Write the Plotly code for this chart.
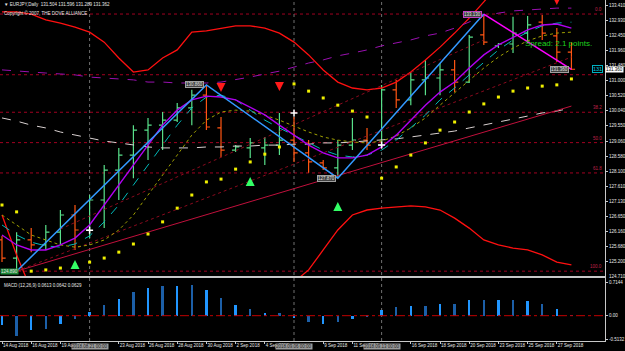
import plotly.graph_objects as go

dates = ["14 Aug 2018", "15 Aug 2018", "16 Aug 2018", "17 Aug 2018", "19 Aug 2018", "20 Aug 2018",
         "21 Aug 2018", "22 Aug 2018", "23 Aug 2018", "24 Aug 2018", "26 Aug 2018", "27 Aug 2018",
         "28 Aug 2018", "29 Aug 2018", "30 Aug 2018", "31 Aug 2018", "2 Sep 2018", "3 Sep 2018",
         "4 Sep 2018", "5 Sep 2018", "6 Sep 2018", "7 Sep 2018", "9 Sep 2018", "10 Sep 2018",
         "11 Sep 2018", "12 Sep 2018", "13 Sep 2018", "14 Sep 2018", "16 Sep 2018", "17 Sep 2018",
         "18 Sep 2018", "19 Sep 2018", "20 Sep 2018", "21 Sep 2018", "23 Sep 2018", "24 Sep 2018",
         "25 Sep 2018", "26 Sep 2018", "27 Sep 2018", "28 Sep 2018"]

opens = [125.89, 125.31, 125.89, 125.73, 126.14, 126.69, 126.21, 127.17, 128.13, 128.61,
         129.41, 129.57, 129.73, 130.12, 130.53, 129.48, 128.77, 128.84, 128.84, 128.93,
         129.09, 128.68, 128.36, 128.20, 128.93, 129.09, 128.93, 130.70, 130.38, 131.02,
         131.08, 131.34, 130.95, 132.46, 132.11, 132.17, 132.52, 132.87, 132.43, 131.91]
highs = [126.02, 126.14, 126.27, 126.37, 126.85, 127.01, 127.33, 128.29, 128.84, 129.57,
         129.80, 129.99, 130.28, 130.70, 130.86, 129.83, 128.93, 129.16, 129.19, 129.96,
         129.83, 129.09, 128.45, 129.09, 129.80, 129.48, 130.86, 131.02, 131.27, 131.66,
         131.56, 131.66, 132.46, 133.13, 132.20, 133.04, 133.07, 133.10, 132.68, 132.23]
lows = [125.18, 124.89, 125.50, 125.57, 125.73, 125.57, 125.95, 126.27, 127.17, 127.87,
        128.45, 128.77, 129.67, 129.57, 129.41, 128.55, 128.71, 128.52, 128.29, 128.61,
        128.39, 128.04, 128.13, 127.87, 128.77, 128.77, 128.84, 130.12, 130.21, 130.53,
        130.53, 130.63, 130.92, 132.14, 132.04, 131.88, 132.20, 132.30, 131.59, 131.34]
closes = [125.31, 125.89, 125.73, 126.14, 126.69, 126.21, 127.17, 128.13, 128.61, 129.41,
          129.57, 129.73, 130.12, 130.53, 129.51, 128.77, 128.87, 129.00, 128.93, 129.09,
          128.68, 128.39, 128.20, 128.93, 129.09, 128.93, 130.70, 130.38, 131.02, 131.08,
          131.34, 130.95, 132.39, 132.23, 132.17, 132.52, 132.78, 132.52, 131.91, 131.36]

band_upper = [133.20, 133.20, 133.13, 132.94, 132.84, 132.71, 132.55, 132.23, 131.72, 131.27,
              131.34, 131.72, 131.98, 132.55, 132.59, 132.68, 132.75, 132.75, 132.68, 132.52,
              132.23, 131.82, 131.34, 130.95, 130.76, 130.70, 130.76, 130.95, 131.27, 131.66,
              132.07, 132.52, 133.00, 133.52, 134.06, 134.38, 134.54, 134.54, 134.48, 134.38]
band_lower = [126.69, 125.41, 124.29, 123.32, 122.84, 122.52, 122.36, 122.36, 122.52, 122.68,
              122.84, 123.00, 123.16, 123.32, 123.48, 123.65, 123.81, 123.97, 124.13, 124.29,
              124.54, 124.93, 125.57, 126.21, 126.69, 126.85, 126.91, 126.95, 126.98, 126.95,
              126.85, 126.59, 126.27, 125.89, 125.73, 125.63, 125.57, 125.41, 125.18, 125.09]
ma_fast = [126.05, 125.73, 125.57, 125.57, 125.73, 125.95, 126.37, 127.01, 127.65, 128.29,
           128.93, 129.57, 130.05, 130.38, 130.50, 130.47, 130.38, 130.15, 129.90, 129.57,
           129.25, 128.93, 128.68, 128.52, 128.52, 128.61, 128.87, 129.25, 129.73, 130.21,
           130.63, 130.95, 131.40, 131.82, 132.14, 132.39, 132.62, 132.78, 132.81, 132.68]
ma_mid = [126.37, 126.05, 125.82, 125.70, 125.66, 125.76, 126.02, 126.47, 127.01, 127.65,
          128.29, 128.93, 129.57, 130.12, 130.47, 130.53, 130.38, 130.05, 129.73, 129.48,
          129.25, 129.00, 128.77, 128.61, 128.55, 128.61, 128.77, 129.09, 129.48, 129.89,
          130.38, 130.76, 131.18, 131.59, 131.98, 132.30, 132.55, 132.75, 132.84, 132.87]
ma_slow = [126.69, 126.37, 126.05, 125.89, 125.73, 125.66, 125.73, 125.89, 126.21, 126.69,
           127.33, 127.97, 128.61, 129.25, 129.73, 129.99, 130.05, 130.02, 129.89, 129.73,
           129.54, 129.35, 129.19, 129.09, 129.03, 129.00, 129.06, 129.22, 129.48, 129.80,
           130.21, 130.60, 131.02, 131.40, 131.75, 132.04, 132.27, 132.43, 132.52, 132.55]
ma_long = [129.80, 129.70, 129.57, 129.48, 129.35, 129.25, 129.16, 129.06, 129.00, 128.93,
           128.87, 128.84, 128.84, 128.84, 128.87, 128.87, 128.90, 128.90, 128.93, 128.93,
           128.96, 128.96, 129.00, 129.00, 129.03, 129.06, 129.09, 129.13, 129.19, 129.25,
           129.32, 129.38, 129.48, 129.57, 129.67, 129.77, 129.86, 129.96, 130.02, 130.12]
ma_channel = [131.34, 131.30, 131.27, 131.24, 131.21, 131.18, 131.11, 131.08, 131.05, 131.02,
              130.95, 130.95, 130.92, 130.92, 130.92, 130.95, 131.02, 131.11, 131.21, 131.30,
              131.43, 131.56, 131.66, 131.79, 131.88, 131.98, 132.11, 132.20, 132.30, 132.43,
              132.52, 132.68, 132.87, 133.07, 133.16, 133.23, 133.26, 133.29, 133.32, 133.32]
sar = [127.01, 126.79, 124.89, 124.93, 124.99, 125.09, 125.18, 125.31, 125.50, 125.76,
       126.08, 126.47, 126.91, 127.33, 127.75, 127.84, 128.16, 128.39, 128.64, 128.87,
       130.89, 130.66, 130.44, 130.21, 130.02, 129.83, 127.87, 128.23, 128.61, 129.00,
       129.41, 129.67, 129.99, 130.25, 130.47, 130.66, 130.76, 130.82, 130.86, 131.05]
macd = [-0.20, -0.45, -0.30, -0.28, -0.18, -0.08, 0.09, 0.24, 0.37, 0.51,
        0.59, 0.65, 0.65, 0.67, 0.55, 0.39, 0.24, 0.14, 0.06, 0.06,
        -0.06, -0.14, -0.18, -0.14, -0.07, -0.03, 0.13, 0.18, 0.21, 0.21,
        0.25, 0.26, 0.35, 0.35, 0.33, 0.33, 0.31, 0.25, 0.14, 0.01]

zigzag_idx = [1, 14, 23, 33]
sell_idx = [15, 19, 38]
sell_y = [130.63, 130.66, 133.42]
buy_idx = [5, 17, 23]
buy_y = [125.25, 127.91, 127.11]
mark_idx = [6, 20, 26]
mark_y = [126.20, 129.96, 128.93]
trend_solid_idx = [1, 39]
trend_solid_y = [124.89, 130.18]
trend_a_idx = [4, 33]
trend_a_y = [126.24, 132.30]
trend_b_idx = [1, 39]
trend_b_y = [124.89, 131.75]
vline_idx = [6, 20, 26]
vline_text = ["2018.08.21 00:00", "2018.09.06 00:00", "2018.09.13 00:00"]
price_ticks = [133.41, 132.93, 132.45, 131.96, 131.48, 131.00, 130.52, 130.04, 129.55, 129.06,
               128.58, 128.10, 127.61, 127.13, 126.65, 126.16, 125.68, 125.20]
macd_ticks = [0.7144, 0.0, -0.5132]
macd_tick_text = ["0.7144", "0.00", "-0.5132"]
fib_levels = [0.0, 23.6, 38.2, 50.0, 61.8, 100.0]
fib_labels = ["0.0", "", "38.2", "50.0", "61.8", "100.0"]

FONT = "Liberation Sans"
AX = "#c8c8c8"
TXT = "#e8e8e8"
FS = 4.5
x = list(range(len(dates)))

# date ticks every second bar; those under the vertical-line boxes are hidden by the boxes
date_tick_idx = [i for i in x[::2] if i not in vline_idx]
date_tick_text = [dates[i] for i in date_tick_idx]

fig = go.Figure()

# envelope bands
for band in (band_upper, band_lower):
    fig.add_trace(go.Scatter(x=x, y=band, mode="lines", line=dict(color="#ff1010", width=1.3),
                             hoverinfo="skip", showlegend=False))

# long lines
fig.add_trace(go.Scatter(x=x, y=ma_channel, mode="lines", line=dict(color="#9a10b0", width=1, dash="dash"),
                         showlegend=False))
fig.add_trace(go.Scatter(x=x, y=ma_long, mode="lines", line=dict(color="#d8d0d0", width=1, dash="dash"),
                         showlegend=False))
fig.add_trace(go.Scatter(x=trend_solid_idx, y=trend_solid_y, mode="lines",
                         line=dict(color="#c0103c", width=1), showlegend=False))
fig.add_trace(go.Scatter(x=trend_a_idx, y=trend_a_y, mode="lines",
                         line=dict(color="#8a0a1e", width=1, dash="dot"), showlegend=False))
fig.add_trace(go.Scatter(x=trend_b_idx, y=trend_b_y, mode="lines",
                         line=dict(color="#8a0a1e", width=1, dash="dot"), showlegend=False))

# moving averages
fig.add_trace(go.Scatter(x=x, y=ma_slow, mode="lines", line=dict(color="#a0a000", width=1, dash="dot"),
                         showlegend=False))
fig.add_trace(go.Scatter(x=x, y=ma_mid, mode="lines", line=dict(color="#00b8b8", width=1, dash="dash"),
                         showlegend=False))
fig.add_trace(go.Scatter(x=x, y=ma_fast, mode="lines", line=dict(color="#b000f0", width=1.4),
                         showlegend=False))

# fibonacci levels
fib_low = lows[zigzag_idx[0]]
fib_high = highs[zigzag_idx[3]]
for lvl, lab in zip(fib_levels, fib_labels):
    yv = fib_high - (fib_high - fib_low) * lvl / 100.0
    fig.add_shape(type="line", xref="paper", yref="y", x0=0, x1=1, y0=yv, y1=yv,
                  line=dict(color="#a00020", width=1, dash="dot"), layer="below")
    if lab:
        fig.add_annotation(xref="paper", yref="y", x=0.998, y=yv, text=lab, showarrow=False,
                           xanchor="right", yanchor="bottom", font=dict(family=FONT, size=FS, color="#c0204a"))

# vertical lines
for vi, vt in zip(vline_idx, vline_text):
    fig.add_shape(type="line", xref="x", yref="paper", x0=vi, x1=vi, y0=0, y1=1,
                  line=dict(color="#707070", width=1, dash="dot"), layer="below")
    fig.add_annotation(xref="x", yref="paper", x=vi, y=0, yanchor="top", yshift=-2, text=vt,
                       showarrow=False, bgcolor="#9a9a9a", font=dict(family=FONT, size=FS, color="#202020"),
                       borderpad=0)

# bars
fig.add_trace(go.Ohlc(x=x, open=opens, high=highs, low=lows, close=closes, tickwidth=0.25,
                      increasing=dict(line=dict(color="#58e08a", width=1.2)),
                      decreasing=dict(line=dict(color="#ff5512", width=1.2)),
                      showlegend=False, hoverinfo="skip"))

# zigzag
zz_x = zigzag_idx
zz_y = [lows[1], highs[14], lows[23], highs[33]]
fig.add_trace(go.Scatter(x=zz_x, y=zz_y, mode="lines", line=dict(color="#3399ff", width=1.5), showlegend=False))
fig.add_trace(go.Scatter(x=[zigzag_idx[3], x[-1]], y=[highs[33], closes[-1]], mode="lines",
                         line=dict(color="#ff00ff", width=1.5), showlegend=False))

# sar dots
fig.add_trace(go.Scatter(x=x, y=sar, mode="markers", marker=dict(color="#f0f000", size=3, symbol="square"),
                         showlegend=False))
# signals
fig.add_trace(go.Scatter(x=sell_idx, y=sell_y, mode="markers",
                         marker=dict(color="#ff1a1a", size=9, symbol="arrow-down"), showlegend=False))
fig.add_trace(go.Scatter(x=buy_idx, y=buy_y, mode="markers",
                         marker=dict(color="#33ff66", size=9, symbol="arrow-up"), showlegend=False))
fig.add_trace(go.Scatter(x=mark_idx, y=mark_y, mode="markers",
                         marker=dict(color="#ffffff", size=5, symbol="cross-thin", line=dict(color="#ffffff", width=1.5)),
                         showlegend=False))

# zigzag labels
zz_labels = [(14, highs[14], "#a0a0a0"), (23, lows[23], "#a0a0a0"),
             (33, highs[33], "#c040c0"), (39, closes[-1], "#a0a0a0")]
for xi, yv, bc in zz_labels:
    fig.add_annotation(x=xi, y=yv, xref="x", yref="y", text=f"{yv:.3f}", showarrow=False,
                       xanchor="right", xshift=-2, bgcolor="#404040", bordercolor=bc, borderwidth=1, borderpad=0,
                       font=dict(family=FONT, size=FS, color="#e0e0e0"))
fig.add_annotation(xref="paper", x=0.0, y=lows[1], yref="y", text=f"{lows[1]:.3f}", showarrow=False,
                   xanchor="left", yanchor="middle", bgcolor="#1e8a3a", borderpad=0,
                   font=dict(family=FONT, size=FS, color="#e0e0e0"))

# macd
macd_colors = ["#2196ff" if i % 2 == 0 else "#1c5fa8" for i in x]
fig.add_trace(go.Bar(x=x, y=macd, marker=dict(color=macd_colors, line=dict(width=0)), width=0.16,
                     xaxis="x2", yaxis="y2", showlegend=False))
fig.add_shape(type="line", xref="paper", yref="y2", x0=0, x1=1, y0=0, y1=0,
              line=dict(color="#c00000", width=1, dash="dashdot"))

# texts
fig.add_annotation(xref="paper", yref="paper", x=0.004, y=1.0, yanchor="top", xanchor="left",
                   text="\u25bc EURJPY,Daily  131.504 131.596 131.289 131.362", showarrow=False,
                   font=dict(family=FONT, size=FS, color=TXT))
fig.add_annotation(xref="paper", yref="paper", x=0.004, y=0.976, yanchor="top", xanchor="left",
                   text="Copyright \u00a9 2007, THE DOVE ALLIANCE", showarrow=False,
                   font=dict(family=FONT, size=FS, color=TXT))
fig.add_annotation(xref="paper", yref="paper", x=0.004, y=0.175, yanchor="top", xanchor="left",
                   text="MACD (12,26,9) 0.0613 0.0642 0.0629", showarrow=False,
                   font=dict(family=FONT, size=FS, color=TXT))
fig.add_annotation(xref="x", yref="y", x=35.7, y=132.20, xanchor="left", text="Spread: 2.1 points.",
                   showarrow=False, font=dict(family=FONT, size=8, color="#1ed21e"))
fig.add_annotation(xref="paper", yref="y", x=1.0, y=closes[-1], xanchor="left", text=f"{closes[-1]:.3f}",
                   showarrow=False, bgcolor="#ffffff", borderpad=0, font=dict(family=FONT, size=FS, color="#000000"))
fig.add_annotation(xref="paper", yref="y", x=0.996, y=closes[-1], xanchor="right", text="131",
                   showarrow=False, bordercolor="#00b0c0", borderwidth=1, borderpad=0,
                   font=dict(family=FONT, size=5.5, color="#00d0e0"))
fig.add_annotation(xref="paper", yref="paper", x=1.0, y=0.1906, xanchor="left", yanchor="middle", xshift=2,
                   text="124.710", showarrow=False, font=dict(family=FONT, size=FS, color=TXT))

fig.update_layout(
    width=625, height=351,
    margin=dict(l=0, r=20, t=0, b=10, autoexpand=False),
    paper_bgcolor="#000000", plot_bgcolor="#000000",
    showlegend=False, bargap=0,
    xaxis=dict(domain=[0, 1], anchor="y", range=[-0.137, 41.3], showticklabels=False,
               showgrid=False, zeroline=False, showline=True, linecolor=AX, linewidth=1,
               rangeslider=dict(visible=False), automargin=False),
    xaxis2=dict(domain=[0, 1], anchor="y2", matches="x", range=[-0.137, 41.3],
                tickvals=date_tick_idx, ticktext=date_tick_text, ticklabelposition="outside right", tickangle=0,
                tickfont=dict(family=FONT, size=FS, color=TXT), ticks="outside", ticklen=2,
                tickcolor=AX, showgrid=False, zeroline=False, showline=True, mirror=True,
                linecolor=AX, linewidth=1, automargin=False),
    yaxis=dict(domain=[0.1906, 1], range=[124.735, 133.58], side="right", tickvals=price_ticks,
               ticktext=[f"{v:.3f}" for v in price_ticks], tickfont=dict(family=FONT, size=FS, color=TXT),
               ticks="outside", ticklen=2, tickcolor=AX, showgrid=False, zeroline=False,
               showline=True, linecolor=AX, linewidth=1, automargin=False),
    yaxis2=dict(domain=[0, 0.1848], range=[-0.548, 0.816], side="right", tickvals=macd_ticks,
                ticktext=macd_tick_text, tickfont=dict(family=FONT, size=FS, color=TXT),
                ticks="outside", ticklen=2, tickcolor=AX, showgrid=False, zeroline=False,
                showline=True, linecolor=AX, linewidth=1, automargin=False),
)

fig.write_html("out.html")
